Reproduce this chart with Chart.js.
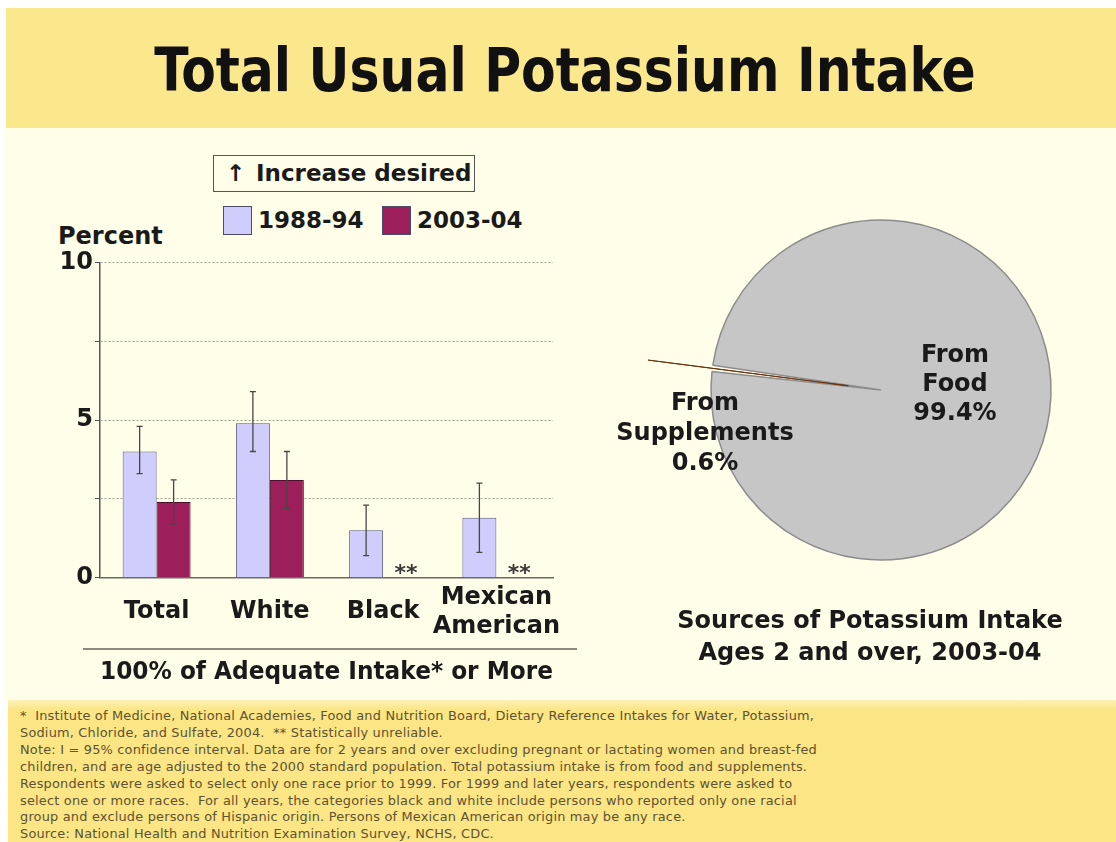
<!DOCTYPE html>
<html>
<head>
<meta charset="utf-8">
<script src="https://cdn.jsdelivr.net/npm/chart.js"></script>
<style>
html, body { margin: 0; padding: 0; }
body { width: 1116px; height: 842px; position: relative; overflow: hidden; background: #fff;
       font-family: 'DejaVu Sans', sans-serif; color: #1a1a1a; }
.abs { position: absolute; }
#header { left: 6px; top: 8px; width: 1110px; height: 120px; background: #fbe88c; }
#title { left: 0; top: 40px; width: 1130px; text-align: center; font-family: 'DejaVu Sans Condensed', 'DejaVu Sans', sans-serif;
         font-weight: bold; font-size: 56px; line-height: 60px; color: #111; transform: scaleY(1.08); }
#main { left: 4px; top: 128px; width: 1112px; height: 572px; background: #fffee9; }
#footer { left: 8px; top: 700px; width: 1108px; height: 142px; background: linear-gradient(#fdf2b6 0, #fbe584 10px); }
#notes { left: 20px; top: 708px; font-size: 12.9px; letter-spacing: 0.2px; line-height: 16.9px; color: #5e5232; white-space: pre; }
.big { font-weight: bold; font-size: 24px; line-height: 28px; white-space: nowrap; }
#increase { left: 213px; top: 155px; width: 262px; height: 37px; border: 1.5px solid #555; box-sizing: border-box; }
#increase span { position: absolute; top: 2px; font-weight: bold; font-size: 23px; line-height: 30px; }
.swatch { width: 29px; height: 29px; top: 206px; box-sizing: border-box; border: 1.5px solid #4c4c66; }
.legtext { top: 205px; font-weight: bold; font-size: 23px; line-height: 30px; }
#sep { left: 83px; top: 648px; width: 494px; height: 2px; background: #8a8a80; }
#barCanvasWrap { left: 40px; top: 246px; width: 540px; height: 444px; }
#pieCanvasWrap { left: 621px; top: 150px; width: 520px; height: 480px; }
.center { text-align: center; }
</style>
</head>
<body>
<div id="header" class="abs"></div>
<div id="title" class="abs">Total Usual Potassium Intake</div>
<div id="main" class="abs"></div>
<div id="footer" class="abs"></div>
<div id="notes" class="abs">*  Institute of Medicine, National Academies, Food and Nutrition Board, Dietary Reference Intakes for Water, Potassium,
Sodium, Chloride, and Sulfate, 2004.  ** Statistically unreliable.
Note: I = 95% confidence interval. Data are for 2 years and over excluding pregnant or lactating women and breast-fed
children, and are age adjusted to the 2000 standard population. Total potassium intake is from food and supplements.
Respondents were asked to select only one race prior to 1999. For 1999 and later years, respondents were asked to
select one or more races.  For all years, the categories black and white include persons who reported only one racial
group and exclude persons of Hispanic origin. Persons of Mexican American origin may be any race.
Source: National Health and Nutrition Examination Survey, NCHS, CDC.</div>

<div id="increase" class="abs"><span style="left:12px">&#8593;</span><span style="left:42px">Increase desired</span></div>
<div id="sw1" class="abs swatch" style="left:223px"></div>
<div id="lt1" class="abs legtext" style="left:258px"></div>
<div id="sw2" class="abs swatch" style="left:382px"></div>
<div id="lt2" class="abs legtext" style="left:417px"></div>
<div class="abs big" style="left:58px; top:222px;">Percent</div>
<div id="sep" class="abs"></div>

<div id="barCanvasWrap" class="abs"><canvas id="barChart"></canvas></div>
<div id="pieCanvasWrap" class="abs"><canvas id="pieChart"></canvas></div>

<div class="abs big center" style="left:880px; top:340px; width:150px; line-height:29px;">From<br>Food<br>99.4%</div>
<div class="abs big center" style="left:600px; top:387px; width:210px; line-height:30px;">From<br>Supplements<br>0.6%</div>
<div class="abs big center" style="left:620px; top:604px; width:500px; line-height:32px;">Sources of Potassium Intake<br>Ages 2 and over, 2003-04</div>

<script>
// bar chart data (percent with 100% of adequate intake or more)
const categories = ['Total', 'White', 'Black', ['Mexican', 'American']];
const seriesNames = ['1988-94', '2003-04'];
const values1988 = [4.0, 4.9, 1.5, 1.9];
const values2003 = [2.4, 3.1, null, null];   // null = statistically unreliable (**)
const ciLow1988 = [3.3, 4.0, 0.7, 0.8];
const ciHigh1988 = [4.8, 5.9, 2.3, 3.0];
const ciLow2003 = [1.7, 2.2, null, null];
const ciHigh2003 = [3.1, 4.0, null, null];
const yTicks = [0, 5, 10];
const xTitle = '100% of Adequate Intake* or More';

// pie data
const pieLabels = ['From Food', 'From Supplements'];
const pieValues = [99.4, 0.6];

const colors = {
  light: '#cfcdfb', lightBorder: '#5a5a80',
  dark: '#9c1f5c', darkBorder: '#4e0e2c',
  food: '#c6c6c6', foodBorder: '#8c8c8c',
  supp: '#e8782a', suppBorder: '#6a3210'
};

document.getElementById('sw1').style.background = colors.light;
document.getElementById('sw2').style.background = colors.dark;
document.getElementById('lt1').textContent = seriesNames[0];
document.getElementById('lt2').textContent = seriesNames[1];

Chart.defaults.font.family = "'DejaVu Sans', sans-serif";
Chart.defaults.color = '#1a1a1a';

// error bars and ** markers drawn on top of the bars
const errorBars = {
  id: 'errorBars',
  afterDatasetsDraw(chart) {
    const ctx = chart.ctx;
    const yScale = chart.scales.y;
    const ranges = [[ciLow1988, ciHigh1988], [ciLow2003, ciHigh2003]];
    const vals = [values1988, values2003];
    ctx.save();
    ctx.strokeStyle = '#474747';
    ctx.lineWidth = 1.3;
    ranges.forEach(([lo, hi], d) => {
      chart.getDatasetMeta(d).data.forEach((bar, i) => {
        if (vals[d][i] == null) {
          ctx.fillStyle = '#3a3a3a';
          ctx.font = 'bold 22px "DejaVu Sans"';
          ctx.textAlign = 'center';
          ctx.textBaseline = 'alphabetic';
          ctx.fillText('**', bar.x + 6, yScale.getPixelForValue(0) + 2);
          return;
        }
        const x = bar.x;
        const y1 = yScale.getPixelForValue(lo[i]);
        const y2 = yScale.getPixelForValue(hi[i]);
        ctx.beginPath();
        ctx.moveTo(x, y1); ctx.lineTo(x, y2);
        ctx.moveTo(x - 3, y1); ctx.lineTo(x + 3, y1);
        ctx.moveTo(x - 3, y2); ctx.lineTo(x + 3, y2);
        ctx.stroke();
      });
    });
    ctx.restore();
  }
};

new Chart(document.getElementById('barChart'), {
  type: 'bar',
  data: {
    labels: categories,
    datasets: [
      { label: seriesNames[0], data: values1988, backgroundColor: colors.light,
        borderColor: colors.lightBorder, borderWidth: 1 },
      { label: seriesNames[1], data: values2003, backgroundColor: colors.dark,
        borderColor: colors.darkBorder, borderWidth: c => (c.raw == null ? 0 : 1) }
    ]
  },
  options: {
    responsive: true,
    maintainAspectRatio: false,
    animation: false,
    layout: { padding: { top: 16, right: 27, bottom: 0, left: 0 } },
    datasets: { bar: { categoryPercentage: 0.6, barPercentage: 1.0 } },
    plugins: { legend: { display: false }, tooltip: { enabled: false } },
    scales: {
      x: {
        grid: { display: false },
        border: { display: true, color: '#6a6a6a', width: 1.5 },
        ticks: { padding: 12, crossAlign: 'center', maxRotation: 0, minRotation: 0, autoSkip: false,
                 font: { size: 24, weight: 'bold' }, color: '#1a1a1a' },
        title: { display: true, text: xTitle, font: { size: 24, weight: 'bold' }, color: '#1a1a1a',
                 padding: { top: -9, bottom: 3 } }
      },
      y: {
        min: 0, max: 10,
        afterFit: s => { s.width = 60; },
        grid: { color: '#a3a394', lineWidth: 1, tickLength: 5, tickColor: '#555', tickBorderDash: [] },
        border: { display: true, color: '#555', width: 1.5, dash: [2, 2] },
        ticks: { stepSize: 2.5, padding: 2, font: { size: 24, weight: 'bold' }, color: '#1a1a1a',
                 callback: v => (yTicks.includes(v) ? v : '') }
      }
    }
  },
  plugins: [errorBars]
});

new Chart(document.getElementById('pieChart'), {
  type: 'pie',
  data: {
    labels: pieLabels,
    datasets: [{
      data: pieValues,
      backgroundColor: [colors.food, colors.supp],
      borderColor: [colors.foodBorder, colors.suppBorder],
      borderWidth: [1.5, 1],
      offset: [0, 132],
      radius: 170,
      rotation: -81.6
    }]
  },
  options: {
    responsive: true,
    maintainAspectRatio: false,
    animation: false,
    layout: { padding: 0 },
    plugins: { legend: { display: false }, tooltip: { enabled: false } }
  }
});
</script>
</body>
</html>
